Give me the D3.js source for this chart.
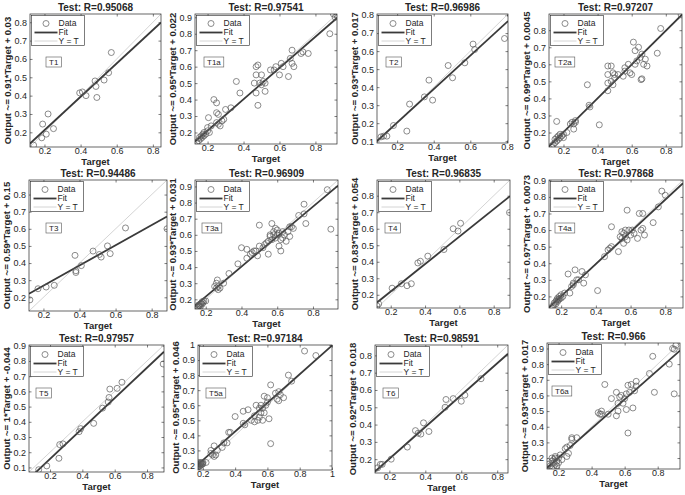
<!DOCTYPE html>
<html><head><meta charset="utf-8">
<script src="https://cdn.jsdelivr.net/npm/d3@7"></script>
<style>
body{margin:0;background:#fff}
svg{display:block}
text{font-family:"Liberation Sans",Arial,Helvetica,sans-serif}
</style>
</head><body>
<svg id="chart" width="685" height="495"></svg>
<script>
// ---------------- data ----------------
const panelTags = ["T1","T1a","T2","T2a","T3","T3a","T4","T4a","T5","T5a","T6","T6a"];
const rValues = ["0.95068","0.97541","0.96986","0.97207","0.94486","0.96909","0.96835","0.97868","0.97957","0.97184","0.98591","0.966"];
const fitSlopes = [0.91,0.95,0.93,0.99,0.59,0.93,0.83,0.97,1,0.95,0.92,0.93];
const fitIntercepts = [0.03,0.022,0.017,0.0045,0.15,0.031,0.054,0.0073,-0.044,0.046,0.018,0.017];
const axisLimits = [[0.12,0.845],[0.13,0.92],[0.09,0.806],[0.115,0.895],[0.12,0.885],[0.14,0.94],
                    [0.12,0.895],[0.13,0.902],[0.07,0.905],[0.17,1.0],[0.12,0.86],[0.13,0.935]];
const xTickValues = [0.2,0.4,0.6,0.8,1];
const yTickValues = [0.1,0.2,0.3,0.4,0.5,0.6,0.7,0.8,0.9,1];
const legendLabels = ["Data","Fit","Y = T"];

const t1Target = [0.14,0.185,0.19,0.21,0.22,0.25,0.395,0.41,0.43,0.48,0.485,0.49,0.53,0.555,0.57];
const t1Output = [0.13,0.17,0.245,0.19,0.30,0.22,0.415,0.42,0.40,0.48,0.45,0.39,0.485,0.525,0.635];

const t1aTarget = [0.14,0.15,0.155,0.16,0.165,0.17,0.175,0.18,0.18,0.19,0.2,0.2,0.21,0.22,0.205,0.235,0.25,0.25,0.26,0.25,0.26,0.27,0.28,0.29,0.3,0.33,0.36,0.38,0.46,0.47,0.48,0.47,0.48,0.47,0.49,0.5,0.5,0.51,0.52,0.52,0.55,0.57,0.58,0.6,0.61,0.62,0.65,0.66,0.67,0.67,0.68,0.72,0.73,0.76,0.88,0.9,0.91,0.92];
const t1aOutput = [0.14,0.15,0.17,0.16,0.18,0.17,0.19,0.18,0.2,0.19,0.21,0.23,0.2,0.24,0.29,0.4,0.38,0.32,0.31,0.26,0.25,0.24,0.27,0.28,0.34,0.35,0.51,0.44,0.5,0.6,0.61,0.55,0.365,0.44,0.5,0.55,0.49,0.51,0.5,0.45,0.58,0.58,0.6,0.55,0.62,0.6,0.54,0.65,0.62,0.7,0.6,0.68,0.69,0.68,0.8,0.92,0.9,0.91];

const t2Target = [0.112,0.126,0.144,0.18,0.253,0.268,0.349,0.374,0.394,0.479,0.503,0.57,0.615,0.624,0.787];
const t2Output = [0.124,0.128,0.128,0.187,0.156,0.306,0.346,0.439,0.328,0.52,0.452,0.535,0.639,0.609,0.67];

const t2aTarget = [0.13,0.14,0.15,0.15,0.16,0.16,0.17,0.17,0.18,0.18,0.19,0.2,0.2,0.16,0.22,0.24,0.25,0.26,0.26,0.27,0.27,0.34,0.35,0.355,0.41,0.46,0.46,0.46,0.46,0.48,0.48,0.49,0.49,0.5,0.5,0.52,0.55,0.56,0.56,0.58,0.59,0.6,0.61,0.62,0.62,0.63,0.64,0.65,0.655,0.66,0.66,0.67,0.68,0.69,0.75,0.77,0.89];
const t2aOutput = [0.12,0.13,0.14,0.16,0.15,0.17,0.16,0.18,0.17,0.19,0.18,0.19,0.17,0.265,0.2,0.25,0.26,0.22,0.25,0.27,0.26,0.48,0.36,0.35,0.245,0.59,0.54,0.49,0.445,0.59,0.5,0.55,0.48,0.52,0.54,0.54,0.53,0.58,0.56,0.6,0.55,0.54,0.73,0.68,0.6,0.62,0.7,0.64,0.51,0.515,0.66,0.6,0.63,0.59,0.665,0.81,0.89];

const t3Target = [0.125,0.17,0.215,0.26,0.375,0.38,0.38,0.41,0.475,0.51,0.52,0.555,0.57,0.655,0.885];
const t3Output = [0.185,0.25,0.26,0.27,0.445,0.345,0.355,0.385,0.47,0.45,0.435,0.5,0.455,0.605,0.6];

const t3aTarget = [0.15,0.155,0.16,0.16,0.165,0.17,0.17,0.175,0.18,0.18,0.185,0.19,0.2,0.25,0.26,0.26,0.265,0.27,0.27,0.28,0.3,0.33,0.38,0.4,0.43,0.43,0.45,0.46,0.47,0.48,0.49,0.5,0.5,0.52,0.53,0.54,0.55,0.55,0.56,0.56,0.57,0.57,0.58,0.58,0.59,0.59,0.6,0.6,0.61,0.61,0.62,0.62,0.63,0.63,0.64,0.65,0.66,0.67,0.67,0.68,0.69,0.72,0.75,0.75,0.76,0.88,0.9];
const t3aOutput = [0.14,0.15,0.155,0.165,0.16,0.17,0.155,0.175,0.17,0.185,0.18,0.19,0.19,0.28,0.27,0.3,0.32,0.26,0.28,0.27,0.3,0.36,0.42,0.52,0.51,0.455,0.48,0.49,0.5,0.5,0.47,0.66,0.53,0.52,0.54,0.55,0.48,0.56,0.6,0.59,0.67,0.57,0.62,0.6,0.64,0.58,0.6,0.63,0.53,0.61,0.5,0.57,0.62,0.58,0.6,0.56,0.62,0.65,0.59,0.65,0.64,0.72,0.79,0.73,0.67,0.88,0.635];

const t4Target = [0.12,0.13,0.208,0.262,0.295,0.32,0.358,0.373,0.416,0.51,0.564,0.592,0.607,0.892];
const t4Output = [0.133,0.145,0.24,0.267,0.255,0.267,0.393,0.403,0.434,0.474,0.6,0.586,0.633,0.698];

const t4aTarget = [0.15,0.16,0.16,0.17,0.17,0.175,0.18,0.18,0.185,0.19,0.19,0.2,0.2,0.21,0.22,0.24,0.25,0.26,0.27,0.27,0.28,0.29,0.3,0.32,0.33,0.34,0.41,0.45,0.47,0.48,0.49,0.49,0.53,0.54,0.55,0.55,0.56,0.56,0.57,0.57,0.58,0.58,0.59,0.6,0.61,0.62,0.64,0.65,0.66,0.67,0.67,0.68,0.73,0.76,0.78,0.8];
const t4aOutput = [0.14,0.15,0.16,0.17,0.155,0.18,0.17,0.19,0.18,0.2,0.185,0.19,0.21,0.2,0.22,0.335,0.22,0.26,0.27,0.28,0.36,0.3,0.3,0.35,0.28,0.33,0.235,0.44,0.48,0.49,0.62,0.5,0.47,0.56,0.59,0.55,0.52,0.58,0.6,0.56,0.72,0.54,0.6,0.57,0.6,0.58,0.55,0.7,0.6,0.7,0.61,0.57,0.645,0.74,0.835,0.81];

const t5Target = [0.13,0.18,0.255,0.26,0.28,0.38,0.39,0.47,0.525,0.56,0.565,0.57,0.615,0.645,0.9];
const t5Output = [0.085,0.11,0.16,0.25,0.255,0.335,0.355,0.39,0.49,0.53,0.56,0.615,0.62,0.66,0.78];

const t5aTarget = [0.165,0.17,0.17,0.175,0.175,0.18,0.18,0.185,0.185,0.19,0.19,0.195,0.2,0.2,0.22,0.25,0.25,0.26,0.27,0.27,0.28,0.29,0.32,0.33,0.35,0.36,0.37,0.4,0.45,0.45,0.46,0.48,0.5,0.52,0.52,0.53,0.54,0.55,0.55,0.56,0.56,0.57,0.57,0.58,0.58,0.59,0.6,0.6,0.61,0.62,0.62,0.65,0.66,0.67,0.67,0.68,0.7,0.73,0.75,0.83,0.9];
const t5aOutput = [0.2,0.19,0.21,0.2,0.22,0.195,0.21,0.2,0.215,0.205,0.22,0.21,0.22,0.21,0.22,0.28,0.3,0.27,0.33,0.26,0.27,0.3,0.32,0.35,0.35,0.42,0.42,0.525,0.48,0.56,0.47,0.57,0.5,0.53,0.49,0.6,0.5,0.58,0.52,0.55,0.6,0.58,0.5,0.66,0.55,0.6,0.65,0.62,0.51,0.735,0.345,0.68,0.64,0.63,0.69,0.67,0.65,0.8,0.76,0.96,0.93];

const t6Target = [0.135,0.15,0.16,0.21,0.3,0.345,0.36,0.375,0.39,0.42,0.51,0.515,0.555,0.6,0.62,0.71];
const t6Output = [0.15,0.17,0.17,0.2,0.27,0.365,0.35,0.345,0.41,0.36,0.5,0.545,0.55,0.535,0.57,0.665];

const t6aTarget = [0.14,0.15,0.16,0.16,0.16,0.17,0.17,0.17,0.18,0.18,0.18,0.19,0.19,0.2,0.2,0.21,0.22,0.24,0.25,0.25,0.26,0.27,0.28,0.28,0.31,0.44,0.45,0.46,0.46,0.48,0.5,0.52,0.55,0.55,0.56,0.56,0.57,0.58,0.59,0.6,0.61,0.61,0.62,0.62,0.63,0.64,0.65,0.66,0.67,0.67,0.75,0.77,0.78,0.87,0.89,0.9,0.91,0.9];
const t6aOutput = [0.16,0.15,0.13,0.18,0.2,0.14,0.17,0.19,0.16,0.2,0.21,0.18,0.15,0.2,0.17,0.22,0.19,0.26,0.21,0.27,0.23,0.28,0.33,0.32,0.33,0.49,0.48,0.5,0.48,0.67,0.48,0.58,0.62,0.47,0.55,0.5,0.59,0.6,0.55,0.58,0.51,0.61,0.665,0.36,0.62,0.67,0.52,0.63,0.69,0.66,0.74,0.85,0.62,0.8,0.9,0.61,0.92,0.895];

const targets = [t1Target,t1aTarget,t2Target,t2aTarget,t3Target,t3aTarget,t4Target,t4aTarget,t5Target,t5aTarget,t6Target,t6aTarget];
const outputs = [t1Output,t1aOutput,t2Output,t2aOutput,t3Output,t3aOutput,t4Output,t4aOutput,t5Output,t5aOutput,t6Output,t6aOutput];

// ---------------- layout (pixel boxes of each axes: left, top, right, bottom; tag box x offset) ----------------
const layout = [
  {box:[30,14,161,147], tagDx:16},
  {box:[195,14,337,144], tagDx:9},
  {box:[377,14,508,143], tagDx:9},
  {box:[549,14,682,147], tagDx:6},
  {box:[29,180,167,311], tagDx:17},
  {box:[195,180,338,309], tagDx:7},
  {box:[377,180,510,308], tagDx:8},
  {box:[549,180,683,308], tagDx:6},
  {box:[29,345,164,472], tagDx:7},
  {box:[198,345,332,470], tagDx:8},
  {box:[375,345,508,473], tagDx:8},
  {box:[547,343,680,469], tagDx:5}
];

const svg = d3.select("#chart");
const ink = "#262626";
const fmt = v => String(+v.toFixed(2));

function drawPanel(i){
  const [x0,y0,x1,y1] = layout[i].box;
  const dom = axisLimits[i];
  const x = d3.scaleLinear().domain(dom).range([x0,x1]);
  const y = d3.scaleLinear().domain(dom).range([y1,y0]);
  const inDom = v => v >= dom[0]-1e-9 && v <= dom[1]+1e-9;
  const xt = xTickValues.filter(inDom), yt = yTickValues.filter(inDom);
  const g = svg.append("g");

  g.append("clipPath").attr("id","clip"+i).append("rect")
    .attr("x",x0).attr("y",y0).attr("width",x1-x0).attr("height",y1-y0);
  g.append("rect").attr("x",x0).attr("y",y0).attr("width",x1-x0).attr("height",y1-y0).attr("fill","#fff");

  // axes
  const axB = g.append("g").attr("transform",`translate(0,${y1})`)
    .call(d3.axisBottom(x).tickValues(xt).tickFormat(fmt).tickSizeInner(-2.5).tickSizeOuter(0).tickPadding(1));
  const axL = g.append("g").attr("transform",`translate(${x0},0)`)
    .call(d3.axisLeft(y).tickValues(yt).tickFormat(fmt).tickSizeInner(-2.5).tickSizeOuter(0).tickPadding(3));
  const axT = g.append("g").attr("transform",`translate(0,${y0})`)
    .call(d3.axisTop(x).tickValues(xt).tickFormat("").tickSizeInner(-2.5).tickSizeOuter(0));
  const axR = g.append("g").attr("transform",`translate(${x1},0)`)
    .call(d3.axisRight(y).tickValues(yt).tickFormat("").tickSizeInner(-2.5).tickSizeOuter(0));
  [axB,axL,axT,axR].forEach(a=>{
    a.select(".domain").remove();
    a.selectAll("line").attr("stroke",ink).attr("stroke-width",0.6);
    a.selectAll("text").attr("fill",ink).style("font-size","9px").style("font-family","'Liberation Sans',Arial,sans-serif");
  });

  const plot = g.append("g").attr("clip-path",`url(#clip${i})`);
  // Y = T line
  plot.append("line").attr("x1",x(dom[0])).attr("y1",y(dom[0])).attr("x2",x(dom[1])).attr("y2",y(dom[1]))
    .attr("stroke","#c9c9c9").attr("stroke-width",0.8);
  // fit line
  const m = fitSlopes[i], b = fitIntercepts[i];
  plot.append("line").attr("x1",x(dom[0])).attr("y1",y(m*dom[0]+b)).attr("x2",x(dom[1])).attr("y2",y(m*dom[1]+b))
    .attr("stroke","#3a3a3a").attr("stroke-width",1.8);
  // data
  const pts = targets[i].map((t,k)=>[t,outputs[i][k]]);
  plot.selectAll("circle").data(pts).join("circle")
    .attr("cx",d=>x(d[0])).attr("cy",d=>y(d[1])).attr("r",3)
    .attr("fill","none").attr("stroke","#5a5a5a").attr("stroke-width",0.7);

  // box
  g.append("rect").attr("x",x0).attr("y",y0).attr("width",x1-x0).attr("height",y1-y0)
    .attr("fill","none").attr("stroke",ink).attr("stroke-width",0.7);

  // legend
  const lx = x0+1.5, ly = y0+1.5;
  const lg = g.append("g");
  lg.append("rect").attr("x",lx).attr("y",ly).attr("width",53).attr("height",30)
    .attr("fill","#fff").attr("stroke",ink).attr("stroke-width",0.6);
  const rows = [ly+8, ly+17, ly+25.5];
  lg.append("circle").attr("cx",lx+14.5).attr("cy",rows[0]).attr("r",3)
    .attr("fill","none").attr("stroke","#5a5a5a").attr("stroke-width",0.7);
  lg.append("line").attr("x1",lx+3).attr("x2",lx+26).attr("y1",rows[1]).attr("y2",rows[1])
    .attr("stroke","#3a3a3a").attr("stroke-width",1.8);
  lg.append("line").attr("x1",lx+3).attr("x2",lx+26).attr("y1",rows[2]).attr("y2",rows[2])
    .attr("stroke","#c9c9c9").attr("stroke-width",0.8);
  legendLabels.forEach((s,k)=>{
    lg.append("text").attr("x",lx+27).attr("y",rows[k]).attr("dy","0.35em")
      .attr("fill",ink).style("font-size","8.5px").text(s);
  });

  // tag box
  const tg = g.append("g");
  const tagText = tg.append("text").attr("x",x0+layout[i].tagDx+3).attr("y",y0+48).attr("dy","0.35em")
    .attr("fill",ink).style("font-size","8px").text(panelTags[i]);
  const tw = tagText.node().getComputedTextLength();
  tg.insert("rect","text").attr("x",x0+layout[i].tagDx).attr("y",y0+43).attr("width",tw+6).attr("height",10)
    .attr("fill","#fff").attr("stroke","#555").attr("stroke-width",0.6);

  // title
  g.append("text").attr("x",(x0+x1)/2).attr("y",y0-3.5).attr("text-anchor","middle")
    .attr("fill",ink).style("font-size","10px").style("font-weight","bold")
    .text("Test: R=" + rValues[i]);
  // x label
  g.append("text").attr("x",(x0+x1)/2).attr("y",y1+18.2).attr("text-anchor","middle")
    .attr("fill",ink).style("font-size","9.5px").style("font-weight","bold").text("Target");
  // y label
  g.append("text").attr("transform",`translate(${x0-22},${(y0+y1)/2}) rotate(-90)`).attr("dy","0.35em")
    .attr("text-anchor","middle").attr("fill",ink).style("font-size","9.5px").style("font-weight","bold")
    .text("Output ~= " + fitSlopes[i] + "*Target + " + fitIntercepts[i]);
}

for (let i = 0; i < panelTags.length; i++) drawPanel(i);
</script>
</body></html>
